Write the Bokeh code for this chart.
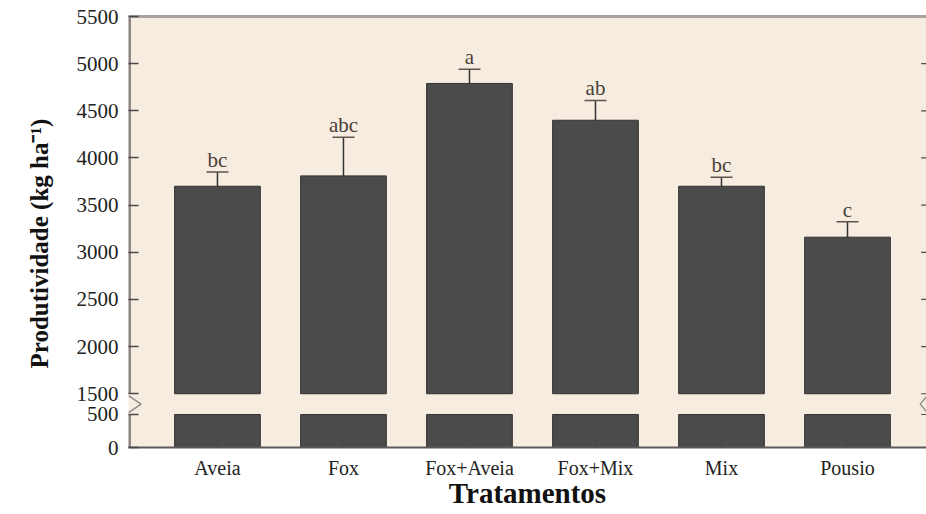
from bokeh.plotting import figure
from bokeh.models import (Range1d, FixedTicker, LinearAxis, Whisker, TeeHead,
                          ColumnDataSource, Title)
from bokeh.core.properties import value
from bokeh.embed import file_html
from bokeh.resources import INLINE

# ---------------- data ----------------
categories = ["Aveia", "Fox", "Fox+Aveia", "Fox+Mix", "Mix", "Pousio"]
yield_mean = [3700, 3810, 4790, 4400, 3700, 3160]
yield_err = [150, 410, 150, 210, 95, 165]
letters = ["bc", "abc", "a", "ab", "bc", "c"]
y_ticks = [0, 500, 1500, 2000, 2500, 3000, 3500, 4000, 4500, 5000, 5500]

# ---------------- broken-axis mapping ----------------
BREAK_LOW = 500
BREAK_HIGH = 1500
GAP = 220          # display units taken by the break
LOW_SCALE = 0.7    # lower segment compression


def to_display(v):
    if v >= BREAK_HIGH:
        return float(v)
    return float(BREAK_HIGH - GAP - (BREAK_LOW - v) * LOW_SCALE)


BG = "#f6ece0"
BAR = "#4b4b4b"
AXIS = "#8d8883"
TICK = "#4a4a4a"
SERIF = "Liberation Serif"

xs = list(range(1, len(categories) + 1))
X0, X1 = 0.294, 6.627
Y0, Y1 = to_display(0), 5500.0

p = figure(width=926, height=511, x_range=Range1d(X0, X1), y_range=Range1d(Y0, Y1),
           output_backend="svg", toolbar_location=None,
           min_border_left=128, min_border_right=0, min_border_top=16, min_border_bottom=61,
           background_fill_color=BG, border_fill_color="white", outline_line_color=None)
p.grid.visible = False
xa = p.below[0]
ya = p.left[0]

# bars: upper part (above the break) and lower stub (below the break)
src = ColumnDataSource(dict(
    x=xs,
    top=[to_display(m) for m in yield_mean],
    upper=[to_display(m + e) for m, e in zip(yield_mean, yield_err)],
    lower=[to_display(m - e) for m, e in zip(yield_mean, yield_err)],
    letters=letters,
    hi_bottom=[to_display(BREAK_HIGH)] * len(xs),
    lo_bottom=[to_display(0)] * len(xs),
    lo_top=[to_display(BREAK_LOW)] * len(xs),
))
p.vbar(x="x", bottom="hi_bottom", top="top", width=0.68, source=src,
       fill_color=BAR, line_color="#333333", line_width=1)
p.vbar(x="x", bottom="lo_bottom", top="lo_top", width=0.68, source=src,
       fill_color=BAR, line_color="#333333", line_width=1)

# error bars
w = Whisker(base="x", upper="upper", lower="lower", source=src,
            line_color="#333333", line_width=1.5,
            upper_head=TeeHead(size=22, line_color="#5e554d", line_width=1.5),
            lower_head=TeeHead(size=22, line_color="#2a2a2a", line_width=1.5))
p.add_layout(w)

# significance letters
p.text(x="x", y="upper", text="letters", source=src, text_align="center",
       text_baseline="bottom", text_font=value(SERIF), text_font_size="21px",
       text_color="#4a4039")

# left axis line (broken) and break marks
p.segment(x0=[X0, X0], y0=[to_display(0), to_display(BREAK_HIGH)],
          x1=[X0, X0], y1=[to_display(BREAK_LOW), Y1], line_color=AXIS, line_width=5)
p.line(x=[X0, X0 + 0.1, X0], y=[1480, 1390, 1300], line_color=AXIS, line_width=1.3)
p.line(x=[X1, X1 - 0.05, X1], y=[1470, 1390, 1310], line_color=AXIS, line_width=1.3)

# right-side inward ticks
p.segment(x0=[X1 - 0.042] * len(y_ticks), y0=[to_display(t) for t in y_ticks],
          x1=[X1] * len(y_ticks), y1=[to_display(t) for t in y_ticks],
          line_color=TICK, line_width=1.2)

yticker = FixedTicker(ticks=[to_display(t) for t in y_ticks])
ya.ticker = yticker
ya.major_label_overrides = {to_display(t): str(t) for t in y_ticks}
ya.axis_line_color = None
ya.major_tick_in = 10
ya.major_tick_out = 0
ya.major_tick_line_color = TICK
ya.major_tick_line_width = 1.5
ya.minor_tick_line_color = None
ya.major_label_standoff = 10
ya.major_label_text_font = SERIF
ya.major_label_text_font_size = "21px"
ya.major_label_text_color = "#222222"

# bottom axis
xa.ticker = FixedTicker(ticks=xs)
xa.major_label_overrides = {x: c for x, c in zip(xs, categories)}
xa.major_tick_in = 8
xa.major_tick_out = 0
xa.major_tick_line_color = TICK
xa.major_tick_line_width = 1.5
xa.minor_tick_line_color = None
xa.axis_line_color = "#5a5a5a"
xa.axis_line_width = 2
xa.major_label_standoff = 9
xa.major_label_text_font = SERIF
xa.major_label_text_font_size = "20px"
xa.major_label_text_color = "#222222"
xa.axis_label = "Tratamentos"
xa.axis_label_text_font = SERIF
xa.axis_label_text_font_style = "bold"
xa.axis_label_text_font_size = "29px"
xa.axis_label_text_color = "#111111"
xa.axis_label_standoff = -5

# top border
ta = LinearAxis(ticker=FixedTicker(ticks=[]), axis_line_color="#a8a39d", axis_line_width=3,
                major_tick_line_color=None, minor_tick_line_color=None)
p.add_layout(ta, "above")

# y axis title, shifted toward the bottom as in the original
p.add_layout(Title(text="Produtividade (kg ha\u207b\u00b9)", align="left", offset=79,
                   standoff=42, text_font=SERIF, text_font_style="bold",
                   text_font_size="25px", text_color="#111111"), "left")

open("out.html", "w").write(file_html(p, INLINE))
